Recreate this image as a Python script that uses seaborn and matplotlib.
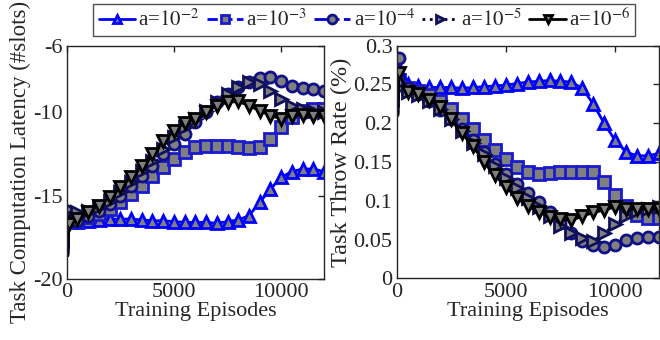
import numpy as np
import pandas as pd
import matplotlib
matplotlib.use("Agg")
import matplotlib.pyplot as plt
import seaborn as sns

################################################
#   Data        #
################################################
# first point is the unmarked start spike, the rest carry markers
episodes = [60, 100] + list(range(500, 12001, 500))

lat_a2 = [-18.2, -16.6, -16.55, -16.5, -16.45, -16.4, -16.4, -16.4, -16.45, -16.5, -16.5, -16.55,
          -16.6, -16.6, -16.6, -16.65, -16.55, -16.45, -16.2, -15.4, -14.6, -13.9, -13.55, -13.4, -13.4, -13.55]
lat_a3 = [-18.3, -16.6, -16.5, -16.3, -16.1, -15.8, -15.4, -14.9, -14.4, -13.8, -13.3, -12.8, -12.4,
          -12.1, -12.0, -12.0, -12.05, -12.1, -12.15, -12.1, -11.6, -10.9, -10.3, -9.9, -9.8, -9.8]
lat_a4 = [-18.4, -16.5, -16.5, -16.2, -15.9, -15.5, -15.0, -14.4, -13.8, -13.2, -12.5, -11.9, -11.3,
          -10.6, -10.0, -9.4, -8.9, -8.5, -8.2, -7.95, -7.9, -8.1, -8.4, -8.55, -8.6, -8.7]
lat_a5 = [-18.5, -15.8, -16.0, -15.9, -15.7, -15.3, -14.8, -14.2, -13.5, -12.9, -12.2, -11.5, -10.9,
          -10.4, -9.9, -9.4, -8.9, -8.5, -8.2, -8.3, -8.7, -9.2, -9.6, -9.8, -9.9, -10.0]
lat_a6 = [-18.6, -16.7, -16.4, -16.0, -15.6, -15.1, -14.5, -13.9, -13.2, -12.5, -11.7, -11.1, -10.65,
          -10.4, -10.0, -9.6, -9.4, -9.35, -9.6, -9.9, -10.2, -10.4, -10.2, -10.15, -10.2, -10.25]

thr_a2 = [0.22, 0.265, 0.25, 0.248, 0.246, 0.246, 0.246, 0.245, 0.246, 0.247, 0.248, 0.249, 0.251,
          0.253, 0.254, 0.255, 0.254, 0.253, 0.245, 0.225, 0.2, 0.178, 0.163, 0.158, 0.158, 0.161]
thr_a3 = [0.22, 0.255, 0.245, 0.242, 0.236, 0.228, 0.218, 0.205, 0.192, 0.178, 0.165, 0.154, 0.144,
          0.137, 0.135, 0.136, 0.137, 0.137, 0.137, 0.137, 0.124, 0.108, 0.093, 0.082, 0.078, 0.078]
thr_a4 = [0.215, 0.284, 0.245, 0.238, 0.228, 0.217, 0.205, 0.192, 0.178, 0.163, 0.148, 0.134, 0.122,
          0.11, 0.098, 0.085, 0.072, 0.058, 0.048, 0.043, 0.04, 0.043, 0.049, 0.052, 0.053, 0.054]
thr_a5 = [0.212, 0.245, 0.24, 0.236, 0.228, 0.218, 0.205, 0.19, 0.175, 0.16, 0.145, 0.13, 0.117,
          0.104, 0.092, 0.08, 0.068, 0.058, 0.052, 0.048, 0.058, 0.07, 0.08, 0.087, 0.09, 0.092]
thr_a6 = [0.21, 0.265, 0.24, 0.238, 0.23, 0.221, 0.206, 0.187, 0.17, 0.15, 0.133, 0.118, 0.104,
          0.093, 0.086, 0.079, 0.076, 0.075, 0.08, 0.085, 0.088, 0.092, 0.09, 0.089, 0.09, 0.089]

labels = [r'a=$10^{-2}$', r'a=$10^{-3}$', r'a=$10^{-4}$', r'a=$10^{-5}$', r'a=$10^{-6}$']

##############################################
#   Styling                                  #
##############################################
sns.set_theme(style="white")
plt.rcParams['font.family'] = ['Liberation Serif', 'DejaVu Serif']
plt.rcParams['mathtext.fontset'] = 'stix'
plt.rcParams['axes.unicode_minus'] = False
plt.rcParams['font.size'] = 16

styles = [
    dict(color='#0000ff', linestyle='-', marker='^', mec='#0000ff'),
    dict(color='#0000ff', linestyle='--', marker='s', mec='#1a1acc'),
    dict(color='#0000d0', linestyle='-.', marker='o', mec='#10108a'),
    dict(color='#00003a', linestyle=':', marker='>', mec='#10105a'),
    dict(color='#000000', linestyle='-', marker='v', mec='#000000'),
]

lat_series = [lat_a2, lat_a3, lat_a4, lat_a5, lat_a6]
thr_series = [thr_a2, thr_a3, thr_a4, thr_a5, thr_a6]

fig = plt.figure(figsize=(6.6, 3.4), dpi=100)
ax1 = fig.add_axes([0.101, 0.179, 0.39, 0.687])
ax2 = fig.add_axes([0.601, 0.181, 0.397, 0.685])


def draw(ax, series):
    for vals, st in zip(series, styles):
        df = pd.DataFrame({'ep': episodes, 'v': vals})
        sns.lineplot(data=df, x='ep', y='v', ax=ax, sort=False, estimator=None, color=st['color'],
                     linestyle=st['linestyle'], linewidth=2, marker=st['marker'], markersize=8,
                     markerfacecolor='#808080', markeredgecolor=st['mec'], markeredgewidth=2,
                     markevery=slice(1, None), legend=False)
    ax.set_xlim(0, 12000)
    ax.set_xticks([0, 5000, 10000])
    ax.set_xlabel('Training Episodes', fontsize=16, labelpad=0)
    ax.tick_params(direction='in', top=True, right=True, length=4, width=1,
                   labelsize=16, colors='#262626', pad=3)
    for s in ax.spines.values():
        s.set_color('#262626')
        s.set_linewidth(1)


draw(ax1, lat_series)
ax1.set_ylim(-20, -6)
ax1.set_yticks([-20, -15, -10, -6])
ax1.set_ylabel('Task Computation Latency (#slots)', fontsize=16.5, labelpad=1)

draw(ax2, thr_series)
ax2.set_ylim(0, 0.3)
ax2.set_yticks([0, 0.05, 0.1, 0.15, 0.2, 0.25, 0.3])
ax2.set_yticklabels(['0', '0.05', '0.1', '0.15', '0.2', '0.25', '0.3'])
ax2.set_ylabel('Task Throw Rate (%)', fontsize=17.5, labelpad=1)

leg = fig.legend(ax1.lines[:5], labels, loc='center', bbox_to_anchor=(0.552, 0.941), ncol=5,
                 frameon=True, fancybox=False, edgecolor='#262626', fontsize=15,
                 handlelength=1.75, handletextpad=0.15, columnspacing=0.35, borderpad=0.25,
                 markerscale=0.8)
leg.get_frame().set_linewidth(1)

fig.savefig('out.png', dpi=100)
